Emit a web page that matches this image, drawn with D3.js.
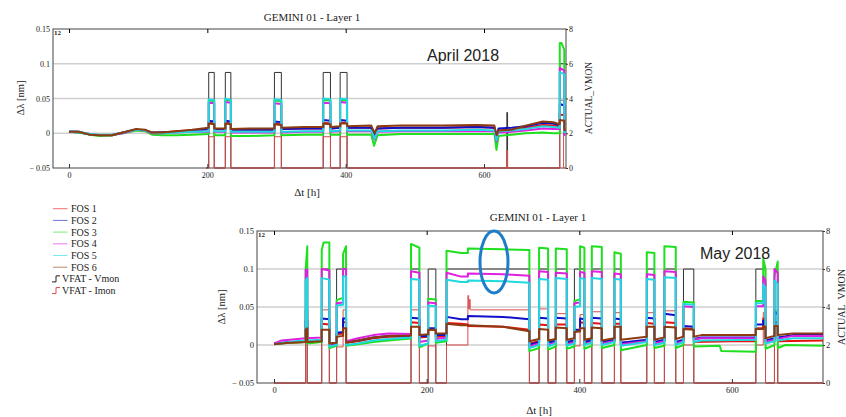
<!DOCTYPE html>
<html>
<head>
<meta charset="utf-8">
<script src="https://cdn.jsdelivr.net/npm/d3@7"></script>
<style>
  body { margin: 0; background: #fff; }
  svg { display: block; }
  text { font-family: "Liberation Serif", "Times New Roman", serif; fill: #222; }
</style>
</head>
<body>
<div id="chart"></div>
<script>
// ---- data: [hours, value] ----
const seriesNames = ["FOS 1", "FOS 2", "FOS 3", "FOS 4", "FOS 5", "FOS 6"]
const seriesColors = ["#e81010", "#1010c8", "#1ee01e", "#e020e0", "#20d8e0", "#8c3a10"]
const xTicks = [0, 200, 400, 600]
const yTicks = [-0.05, 0, 0.05, 0.1, 0.15]
const yLabels = ["\u2212 0.05", "0", "0.05", "0.1", "0.15"]
const rTicks = [0, 2, 4, 6, 8]

// April 2018
const aprFos1 = [[0,.002],[15,.002],[30,-.002],[45,-.003],[62,-.003],[78,.001],[97,.005],[110,.004],[120,.001],[135,.001],[155,.003],[178,.004],[202,.006],[202,.015],[210,.014],[210,.006],[226,.006],[226,.015],[234,.014],[234,.005],[260,.005],[297,.005],[297,.014],[307,.013],[307,.006],[340,.007],[367.5,.007],[367.5,.015],[378,.014],[378,.007],[392,.008],[392,.015],[402,.015],[402,.008],[437,.008],[442,-.002],[446,.007],[480,.008],[540,.008],[590,.009],[615,.008],[618,-.004],[621,.004],[640,.005],[660,.008],[685,.012],[700,.011],[709.5,.01],[709.5,.027],[716,.026],[716,.004],[718,.003]]
const aprFos2 = [[0,.002],[15,.001],[30,-.002],[45,-.003],[62,-.003],[78,.001],[97,.005],[110,.004],[120,.001],[135,.001],[155,.002],[178,.004],[202,.006],[202,.018],[210,.017],[210,.006],[226,.006],[226,.018],[234,.017],[234,.005],[260,.005],[297,.005],[297,.017],[307,.016],[307,.006],[340,.007],[367.5,.007],[367.5,.019],[378,.018],[378,.007],[392,.008],[392,.019],[402,.018],[402,.008],[437,.008],[442,-.002],[446,.007],[480,.008],[540,.008],[590,.009],[615,.008],[618,-.005],[621,.007],[640,.008],[660,.01],[685,.015],[700,.014],[709.5,.012],[709.5,.042],[716,.04],[716,.004],[718,.003]]
const aprFos3 = [[0,.002],[15,.001],[30,-.002],[45,-.004],[62,-.003],[78,0],[97,.004],[110,.003],[120,-.002],[135,-.003],[155,-.003],[178,-.002],[202,-.001],[202,.047],[210,.046],[210,-.003],[226,-.003],[226,.048],[234,.047],[234,-.004],[260,-.004],[297,-.003],[297,.047],[307,.046],[307,-.003],[340,-.002],[367.5,-.002],[367.5,.048],[378,.047],[378,-.002],[392,-.002],[392,.048],[402,.047],[402,-.002],[437,-.002],[441,-.018],[446,-.003],[480,-.001],[540,-.001],[590,-.001],[615,-.001],[618,-.024],[621,-.004],[640,-.002],[660,0],[685,.001],[700,0],[709.5,0],[709.5,.13],[712,.13],[716,.12],[716,0],[718,-.001]]
const aprFos4 = [[0,.003],[15,.002],[30,-.001],[45,-.003],[62,-.002],[78,0],[97,.005],[110,.004],[120,0],[135,0],[155,.001],[178,.002],[202,.002],[202,.044],[210,.043],[210,.002],[226,.002],[226,.045],[234,.044],[234,.001],[260,.001],[297,.001],[297,.043],[307,.042],[307,.001],[340,.002],[367.5,.002],[367.5,.044],[378,.043],[378,.002],[392,.003],[392,.045],[402,.044],[402,.003],[437,.003],[442,-.009],[446,.002],[480,.003],[540,.003],[590,.003],[615,.003],[618,-.012],[621,.001],[640,.002],[660,.004],[685,.007],[700,.006],[709.5,.006],[709.5,.094],[716,.09],[716,-.002],[718,-.003]]
const aprFos5 = [[0,.003],[15,.002],[30,-.001],[45,-.002],[62,-.002],[78,.001],[97,.005],[110,.004],[120,.001],[135,0],[155,.001],[178,.002],[202,.003],[202,.049],[210,.048],[210,.003],[226,.003],[226,.05],[234,.048],[234,.002],[260,.002],[297,.002],[297,.049],[307,.048],[307,.002],[340,.003],[367.5,.003],[367.5,.05],[378,.049],[378,.003],[392,.004],[392,.05],[402,.049],[402,.004],[437,.004],[442,-.008],[446,.003],[480,.004],[540,.004],[590,.005],[615,.004],[618,-.01],[621,.003],[640,.004],[660,.006],[685,.01],[700,.009],[709.5,.008],[709.5,.088],[716,.085],[716,.002],[718,.001]]
const aprFos6 = [[0,.002],[15,.002],[30,-.002],[45,-.003],[62,-.003],[78,.001],[97,.006],[110,.005],[120,.001],[135,.001],[155,.003],[178,.005],[202,.008],[202,.014],[210,.013],[210,.007],[226,.007],[226,.014],[234,.013],[234,.006],[260,.007],[297,.007],[297,.013],[307,.012],[307,.008],[340,.009],[367.5,.009],[367.5,.014],[378,.013],[378,.009],[392,.01],[392,.014],[402,.014],[402,.01],[437,.011],[442,0],[446,.01],[480,.011],[540,.011],[590,.012],[615,.011],[618,-.003],[621,.004],[640,.005],[660,.011],[685,.017],[700,.016],[709.5,.013],[709.5,.019],[716,.018],[716,.005],[718,.004]]
const aprVmon = [[198,0],[202,5.5],[210,0],[226,5.5],[234,0],[297,5.5],[307,0],[367.5,5.5],[378,0],[392,5.5],[402,0],[633,3.2],[634,0],[709.5,6],[718.5,6]]
const aprImon = [[198,0],[202,1.8],[210,0],[226,1.8],[234,0],[297,1.8],[307,0],[367.5,1.8],[378,0],[392,1.8],[402,0],[633,1],[634,0],[709.5,3.9],[715,0],[718.5,0]]

// May 2018
const mayFos1 = [[0,.002],[20,.003],[41.5,.004],[41.5,.046],[43.6,.046],[43.6,.004],[62.5,.005],[62.5,.028],[72.5,.027],[72.5,.002],[82,.003],[82,.014],[90.5,.015],[90.5,.03],[94.4,.03],[94.4,.003],[110,.005],[130,.009],[150,.011],[179.5,.011],[179.5,.03],[190.5,.029],[190.5,.01],[202,.011],[202,.02],[212,.02],[212,.011],[226,.012],[226,.029],[245,.028],[254,.027],[254,.025],[300,.024],[334.6,.02],[334.6,.002],[347.3,.005],[347.3,.027],[359.1,.026],[359.1,.004],[369.2,.005],[369.2,.027],[383.6,.027],[383.6,.004],[393.6,.005],[393.6,.018],[401,.018],[401,.03],[406.7,.029],[406.7,.004],[416.4,.005],[416.4,.029],[429.5,.028],[429.5,.004],[446,.005],[446,.028],[454.4,.028],[454.4,.003],[488.4,.005],[488.4,.029],[498.4,.028],[498.4,.004],[511.5,.005],[511.5,.03],[526.4,.029],[526.4,.004],[536.5,.005],[536.5,.022],[550,.021],[550,.004],[600,.005],[631.3,.005],[631.3,.022],[641,.022],[641,.035],[644,.034],[644,.004],[655.7,.006],[655.7,.03],[660,.03],[660,.005],[719.3,.006]]
const mayFos2 = [[0,.002],[20,.004],[41.5,.005],[41.5,.033],[43.6,.033],[43.6,.004],[62.5,.005],[62.5,.035],[72.5,.034],[72.5,.001],[82,.002],[82,.016],[90.5,.017],[90.5,.035],[94.4,.035],[94.4,.004],[110,.006],[130,.01],[150,.012],[179.5,.0125],[179.5,.036],[190.5,.035],[190.5,.012],[202,.012],[202,.022],[212,.022],[212,.013],[226,.013],[226,.037],[245,.034],[254,.034],[254,.038],[300,.037],[334.6,.034],[334.6,0],[347.3,.004],[347.3,.036],[359.1,.035],[359.1,.003],[369.2,.006],[369.2,.036],[383.6,.035],[383.6,.004],[393.6,.006],[393.6,.02],[401,.02],[401,.035],[406.7,.034],[406.7,.004],[416.4,.007],[416.4,.036],[429.5,.035],[429.5,.004],[446,.007],[446,.035],[454.4,.034],[454.4,.003],[488.4,.007],[488.4,.036],[498.4,.035],[498.4,.004],[511.5,.007],[511.5,.041],[526.4,.039],[526.4,.004],[536.5,.007],[536.5,.025],[550,.024],[550,.008],[560,.01],[631.3,.01],[631.3,.027],[641,.027],[641,.032],[644,.031],[644,.006],[655.7,.009],[655.7,.045],[660,.04],[660,.01],[680,.013],[719.3,.013]]
const mayFos3 = [[0,.001],[20,.003],[41.5,.004],[41.5,.1],[43.6,.13],[43.6,.002],[62.5,.004],[62.5,.125],[65,.135],[72.5,.135],[72.5,-.004],[82,-.001],[82,.059],[90.5,.062],[90.5,.12],[94.4,.13],[94.4,-.001],[110,.001],[130,.004],[150,.006],[179.5,.0086],[179.5,.133],[190.5,.128],[190.5,-.003],[202,.002],[202,.061],[212,.06],[212,.003],[226,.005],[226,.124],[245,.121],[254,.121],[254,.127],[300,.126],[334.6,.125],[334.6,-.008],[347.3,-.004],[347.3,.128],[359.1,.127],[359.1,-.006],[369.2,-.002],[369.2,.127],[383.6,.126],[383.6,-.005],[393.6,-.002],[393.6,.058],[401,.06],[401,.13],[406.7,.128],[406.7,-.005],[416.4,-.001],[416.4,.13],[429.5,.129],[429.5,-.004],[446,0],[446,.122],[454.4,.12],[454.4,-.007],[488.4,0],[488.4,.122],[498.4,.121],[498.4,-.004],[511.5,-.001],[511.5,.13],[526.4,.129],[526.4,-.004],[536.5,0],[536.5,.057],[550,.056],[550,-.002],[584,-.001],[586,-.008],[631.3,-.009],[631.3,.058],[641,.058],[641,.114],[644,.1],[644,-.005],[655.7,0],[655.7,.09],[660,.11],[660,-.004],[670,0],[719.3,-.001]]
const mayFos4 = [[0,.002],[10,.006],[41.5,.009],[41.5,.099],[43.6,.099],[43.6,.009],[62.5,.01],[62.5,.1],[72.5,.098],[72.5,.001],[82,.003],[82,.055],[90.5,.056],[90.5,.1],[94.4,.1],[94.4,.005],[110,.009],[130,.013],[150,.015],[179.5,.0145],[179.5,.097],[190.5,.095],[190.5,.004],[202,.006],[202,.056],[212,.055],[212,.008],[226,.01],[226,.095],[245,.09],[254,.09],[254,.094],[300,.093],[334.6,.091],[334.6,-.002],[347.3,.002],[347.3,.097],[359.1,.096],[359.1,0],[369.2,.003],[369.2,.095],[383.6,.094],[383.6,0],[393.6,.004],[393.6,.055],[401,.056],[401,.096],[406.7,.095],[406.7,.001],[416.4,.004],[416.4,.097],[429.5,.096],[429.5,.002],[446,.005],[446,.094],[454.4,.093],[454.4,.001],[488.4,.005],[488.4,.093],[498.4,.092],[498.4,.002],[511.5,.005],[511.5,.097],[526.4,.096],[526.4,.002],[536.5,.005],[536.5,.051],[550,.05],[550,.007],[560,.009],[631.3,.009],[631.3,.051],[641,.051],[641,.09],[644,.085],[644,.004],[655.7,.007],[655.7,.1],[660,.095],[660,.008],[680,.012],[719.3,.012]]
const mayFos5 = [[0,.001],[20,.004],[41.5,.006],[41.5,.085],[43.6,.088],[43.6,.006],[62.5,.007],[62.5,.088],[72.5,.086],[72.5,-.002],[82,0],[82,.052],[90.5,.053],[90.5,.09],[94.4,.09],[94.4,0],[110,.002],[130,.006],[150,.008],[179.5,.0099],[179.5,.087],[190.5,.086],[190.5,-.001],[202,.002],[202,.052],[212,.051],[212,.005],[226,.007],[226,.086],[245,.083],[254,.083],[254,.085],[300,.084],[334.6,.082],[334.6,-.004],[347.3,0],[347.3,.087],[359.1,.086],[359.1,-.002],[369.2,.002],[369.2,.088],[383.6,.087],[383.6,-.001],[393.6,.002],[393.6,.05],[401,.051],[401,.088],[406.7,.087],[406.7,0],[416.4,.003],[416.4,.088],[429.5,.087],[429.5,0],[446,.004],[446,.087],[454.4,.086],[454.4,-.001],[488.4,.004],[488.4,.087],[498.4,.086],[498.4,0],[511.5,.003],[511.5,.089],[526.4,.088],[526.4,0],[536.5,.004],[536.5,.054],[550,.053],[550,.004],[560,.006],[631.3,.007],[631.3,.055],[641,.055],[641,.08],[644,.075],[644,.002],[655.7,.005],[655.7,.085],[660,.08],[660,.006],[680,.009],[719.3,.009]]
const mayFos6 = [[0,.001],[20,.003],[41.5,.004],[41.5,.02],[43.6,.022],[43.6,.004],[62.5,.005],[62.5,.02],[72.5,.02],[72.5,.002],[82,.003],[82,.011],[90.5,.012],[90.5,.022],[94.4,.022],[94.4,.003],[110,.006],[130,.01],[150,.012],[179.5,.0125],[179.5,.024],[190.5,.024],[190.5,.013],[202,.014],[202,.02],[212,.02],[212,.015],[226,.015],[226,.028],[245,.026],[254,.026],[300,.024],[334.6,.018],[334.6,.005],[347.3,.008],[347.3,.021],[359.1,.02],[359.1,.006],[369.2,.008],[369.2,.023],[383.6,.022],[383.6,.007],[393.6,.009],[393.6,.017],[401,.018],[401,.022],[406.7,.022],[406.7,.007],[416.4,.009],[416.4,.023],[429.5,.022],[429.5,.006],[446,.009],[446,.024],[454.4,.024],[454.4,.007],[488.4,.011],[488.4,.024],[498.4,.024],[498.4,.007],[511.5,.01],[511.5,.024],[526.4,.023],[526.4,.008],[536.5,.011],[536.5,.021],[550,.02],[550,.011],[560,.013],[631.3,.013],[631.3,.021],[641,.021],[641,.025],[644,.024],[644,.009],[655.7,.012],[655.7,.025],[660,.025],[660,.013],[680,.015],[719.3,.015]]
const mayVmon = [[0,0],[41.5,6],[43.6,0],[62.5,6],[72.5,0],[82,6],[94.4,0],[179.5,6],[190.5,0],[202,6],[212,0],[226,6],[334.6,0],[347.3,6],[359.1,0],[369.2,6],[383.6,0],[393.6,6],[406.7,0],[416.4,6],[429.5,0],[446,6],[454.4,0],[488.4,6],[498.4,0],[511.5,6],[526.4,0],[536.5,6],[550,0],[631.3,6],[644,0],[655.7,6],[660,0],[719.3,0]]
const mayImon = [[0,0],[41.5,3.85],[43.6,0],[62.5,3.85],[72.5,0],[82,1.9],[90.5,3.85],[94.4,0],[179.5,3.85],[190.5,0],[202,1.95],[212,0],[226,2],[254,4.6],[255,3.9],[256,4.4],[257,3.85],[334.6,0],[347.3,3.9],[359.1,0],[369.2,3.65],[383.6,0],[393.6,1.95],[401,3.6],[406.7,0],[416.4,3.75],[429.5,0],[446,3.7],[454.4,0],[488.4,3.7],[498.4,0],[511.5,3.8],[526.4,0],[536.5,2],[550,0],[631.3,2],[641,3.7],[644,0],[655.7,3.8],[660,0],[719.3,0]]

const W = 846, H = 417

const svg = d3.select("#chart").append("svg")
    .attr("width", W)
    .attr("height", H)

svg.append("rect").attr("width", W).attr("height", H).attr("fill", "#fff")

const drawPanel = (id, box, xDom, fos, vmon, imon, fs) => {
    const x = d3.scaleLinear().domain(xDom).range([box.left, box.right])
    const y = d3.scaleLinear().domain([-0.05, 0.15]).range([box.bottom, box.top])
    const yr = d3.scaleLinear().domain([0, 8]).range([box.bottom, box.top])

    svg.append("clipPath").attr("id", "clip-" + id)
        .append("rect")
        .attr("x", box.left).attr("y", box.top - 1)
        .attr("width", box.right - box.left).attr("height", box.bottom - box.top + 2)

    // grid
    svg.append("g")
        .selectAll("line")
        .data([0, 0.05, 0.1])
        .enter()
        .append("line")
        .attr("x1", box.left).attr("x2", box.right)
        .attr("y1", d => y(d)).attr("y2", d => y(d))
        .attr("stroke", "#cfcfcf")
        .attr("stroke-width", 1.4)

    // frame
    svg.append("rect")
        .attr("x", box.left).attr("y", box.top)
        .attr("width", box.right - box.left).attr("height", box.bottom - box.top)
        .attr("fill", "none")
        .attr("stroke", "#444")
        .attr("stroke-width", 1)

    const plot = svg.append("g").attr("clip-path", "url(#clip-" + id + ")")

    const stepLine = d3.line()
        .x(d => x(d[0]))
        .y(d => yr(d[1]))
        .curve(d3.curveStepAfter)

    plot.append("path").datum(vmon)
        .attr("d", stepLine)
        .attr("fill", "none")
        .attr("stroke", "#333")
        .attr("stroke-width", 1)

    plot.append("path").datum(imon)
        .attr("d", stepLine)
        .attr("fill", "none")
        .attr("stroke", "#dc4a4a")
        .attr("stroke-width", 1)

    const line = d3.line()
        .x(d => x(d[0]))
        .y(d => y(d[1]))

    fos.forEach((s, i) => {
        plot.append("path").datum(s)
            .attr("d", line)
            .attr("fill", "none")
            .attr("stroke", seriesColors[i])
            .attr("stroke-width", 2)
            .attr("stroke-linejoin", "round")
    })

    // x axis, ticks pointing in
    const xb = svg.append("g")
        .attr("transform", "translate(0," + box.bottom + ")")
        .call(d3.axisBottom(x).tickValues(xTicks).tickSize(-4).tickPadding(4).tickSizeOuter(0))
    svg.append("g")
        .attr("transform", "translate(0," + box.top + ")")
        .call(d3.axisTop(x).tickValues(xTicks).tickSize(-4).tickFormat("").tickSizeOuter(0))
        .select(".domain").remove()

    // left axis
    const yl = svg.append("g")
        .attr("transform", "translate(" + box.left + ",0)")
        .call(d3.axisLeft(y).tickValues(yTicks).tickSize(0).tickPadding(3)
            .tickFormat((d, i) => yLabels[i]))

    // right axis
    const yrAx = svg.append("g")
        .attr("transform", "translate(" + box.right + ",0)")
        .call(d3.axisRight(yr).tickValues(rTicks).tickSize(2).tickPadding(1))

    ;[xb, yl, yrAx].forEach(g => {
        g.select(".domain").remove()
        g.selectAll("text").style("font-size", fs + "px").attr("fill", "#333")
            .style("font-family", "Liberation Serif, serif")
        g.selectAll("line").attr("stroke", "#333")
    })

    svg.append("text")
        .attr("x", box.left + 1).attr("y", box.top + 6)
        .style("font-size", "7px").style("font-weight", "bold")
        .text("12")

    return { x, y, yr }
}

// top panel - April
const topBox = { left: 53, right: 566, top: 29, bottom: 168 }
drawPanel("apr", topBox, [-23.1, 718.5],
    [aprFos1, aprFos2, aprFos3, aprFos4, aprFos5, aprFos6], aprVmon, aprImon, 8)

svg.append("text").attr("x", 312).attr("y", 21).attr("text-anchor", "middle")
    .style("font-size", "11px").text("GEMINI 01 - Layer 1")
svg.append("text").attr("x", 307).attr("y", 196).attr("text-anchor", "middle")
    .style("font-size", "11px").text("\u0394t [h]")
svg.append("text").attr("transform", "translate(24,98) rotate(-90)").attr("text-anchor", "middle")
    .style("font-size", "10.5px").text("\u0394\u03bb [nm]")
svg.append("text").attr("transform", "translate(592,98) rotate(-90)").attr("text-anchor", "middle")
    .style("font-size", "9.5px").text("ACTUAL_VMON")
svg.append("text").attr("x", 427).attr("y", 61)
    .style("font-family", "Liberation Sans, Arial, sans-serif").style("font-size", "16px")
    .text("April 2018")

// bottom panel - May
const botBox = { left: 257, right: 823, top: 231, bottom: 383 }
drawPanel("may", botBox, [-22.3, 719.3],
    [mayFos1, mayFos2, mayFos3, mayFos4, mayFos5, mayFos6], mayVmon, mayImon, 8.5)

svg.append("text").attr("x", 538).attr("y", 221).attr("text-anchor", "middle")
    .style("font-size", "11px").text("GEMINI 01 - Layer 1")
svg.append("text").attr("x", 539).attr("y", 414).attr("text-anchor", "middle")
    .style("font-size", "11px").text("\u0394t [h]")
svg.append("text").attr("transform", "translate(225,307) rotate(-90)").attr("text-anchor", "middle")
    .style("font-size", "10.5px").text("\u0394\u03bb [nm]")
svg.append("text").attr("transform", "translate(845,307) rotate(-90)").attr("text-anchor", "middle")
    .style("font-size", "10px").text("ACTUAL_VMON")
svg.append("text").attr("x", 700).attr("y", 259)
    .style("font-family", "Liberation Sans, Arial, sans-serif").style("font-size", "16px")
    .text("May 2018")

// blue ellipse highlight
svg.append("ellipse")
    .attr("cx", 494).attr("cy", 262).attr("rx", 14).attr("ry", 31)
    .attr("fill", "none").attr("stroke", "#1e7cc8").attr("stroke-width", 3)

// legend
const legend = svg.append("g")
const legY0 = 208.7, legStep = 11.7
seriesNames.forEach((n, i) => {
    const yy = legY0 + i * legStep
    legend.append("line")
        .attr("x1", 53).attr("x2", 67.5).attr("y1", yy).attr("y2", yy)
        .attr("stroke", seriesColors[i]).attr("stroke-opacity", 0.6).attr("stroke-width", 1)
    legend.append("text").attr("x", 71).attr("y", yy + 3.5)
        .style("font-size", "10px").text(n)
})
const vfat = [["VFAT - Vmon", "#222"], ["VFAT - Imon", "#dc4a4a"]]
vfat.forEach((v, i) => {
    const yy = legY0 + (6 + i) * legStep
    legend.append("path")
        .attr("d", "M52," + (yy + 3) + "H56V" + (yy - 3) + "H60")
        .attr("fill", "none").attr("stroke", v[1]).attr("stroke-width", 1)
    legend.append("text").attr("x", 62).attr("y", yy + 3.5)
        .style("font-size", "10px").text(v[0])
})
</script>
</body>
</html>
